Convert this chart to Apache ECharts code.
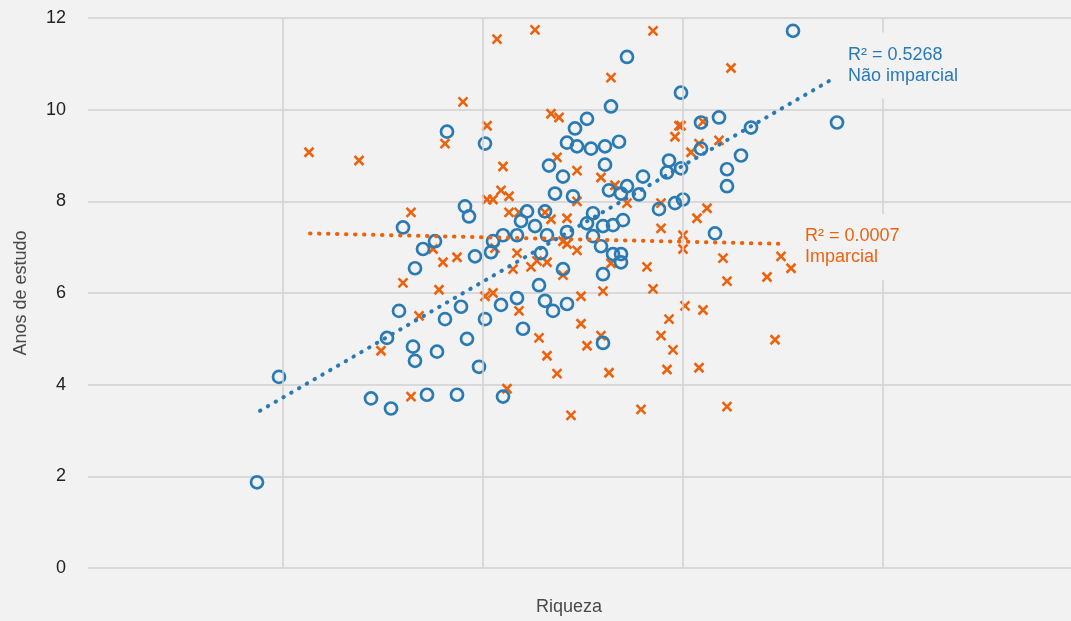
<!DOCTYPE html>
<html>
<head>
<meta charset="utf-8">
<script src="https://cdn.jsdelivr.net/npm/echarts@6/dist/echarts.min.js"></script>
<style>
html,body{margin:0;padding:0;background:#f2f2f2;}
#c{width:1071px;height:621px;}
</style>
</head>
<body>
<div id="c"></div>
<script>
// Não imparcial (blue circles): [riqueza, anos de estudo]
const naoImparcialX = [-1.13,-1.02,-0.56,-0.46,-0.48,-0.42,-0.40,-0.35,-0.34,-0.34,-0.30,-0.28,-0.24,-0.23,-0.19,-0.18,-0.13,-0.11,-0.09,-0.08,-0.07,-0.04,-0.02,0.01,0.01,0.05,0.04,0.09,0.10,0.10,0.17,0.17,0.19,0.20,0.22,0.26,0.28,0.29,0.31,0.31,0.32,0.33,0.35,0.36,0.40,0.40,0.42,0.42,0.42,0.45,0.46,0.47,0.52,0.52,0.54,0.55,0.55,0.59,0.60,0.60,0.60,0.61,0.61,0.63,0.64,0.65,0.65,0.68,0.69,0.69,0.69,0.70,0.72,0.72,0.78,0.80,0.88,0.92,0.93,0.96,0.99,0.99,1.00,1.09,1.09,1.16,1.18,1.22,1.22,1.29,1.34,1.55,1.77];
const naoImparcialY = [1.87,4.17,3.70,3.48,5.02,5.61,7.43,4.83,4.52,6.54,6.96,3.78,7.13,4.72,5.43,9.52,3.78,5.70,7.89,5.00,7.67,6.80,4.39,5.43,9.26,7.13,6.89,5.74,3.74,7.26,5.89,7.26,7.57,5.22,7.78,7.46,6.17,6.87,5.83,7.78,7.26,8.78,5.61,8.17,6.52,8.54,5.76,7.33,9.28,8.11,9.59,9.20,9.80,7.52,9.15,7.74,7.24,7.02,4.91,7.46,6.41,9.20,8.80,8.24,10.07,6.85,7.48,9.30,8.17,6.85,6.67,7.59,11.15,8.33,8.15,8.54,7.83,8.63,8.89,7.96,8.72,10.37,8.04,9.15,9.72,7.30,9.83,8.70,8.33,9.00,9.61,11.72,9.72];

// Imparcial (orange crosses)
const imparcialX = [-0.87,-0.62,-0.19,-0.10,0.02,0.07,0.26,0.85,0.64,0.34,0.38,0.96,0.98,0.37,0.10,0.47,0.59,0.66,0.09,0.13,0.02,0.05,0.47,0.72,0.89,-0.36,0.13,0.18,0.31,0.34,0.42,0.89,-0.25,-0.20,-0.13,0.06,0.17,0.15,0.24,0.27,0.32,0.40,0.42,0.47,0.64,0.82,0.40,0.85,0.01,0.05,0.49,0.60,-0.40,-0.22,-0.32,-0.51,-0.36,0.18,0.49,0.28,0.59,0.52,0.93,0.89,0.95,0.32,0.37,0.63,0.92,0.12,0.44,0.79,1.24,0.99,1.10,1.08,1.18,1.04,1.12,1.07,1.00,1.00,1.20,1.22,1.49,1.54,1.42,1.01,1.10,1.46,1.08,1.22];
const imparcialY = [9.07,8.89,9.26,10.17,9.65,11.54,11.74,11.72,10.70,9.91,9.83,9.41,9.65,8.96,8.76,8.67,8.52,8.35,8.24,8.11,8.04,8.04,8.00,7.96,7.96,7.76,7.76,7.76,7.76,7.61,7.63,7.41,6.96,6.67,6.78,6.98,6.87,6.52,6.57,6.70,6.67,7.13,7.07,6.93,6.65,6.57,6.39,6.09,5.93,6.00,5.93,6.04,6.22,6.07,5.50,4.74,3.74,5.61,5.33,5.02,5.07,4.85,5.43,5.07,4.76,4.63,4.24,4.26,4.33,3.91,3.33,3.46,10.91,9.65,9.74,9.26,9.33,9.07,7.85,7.63,7.26,6.96,6.76,6.26,6.80,6.54,6.35,5.72,5.63,4.98,4.37,3.52];

// Trend lines (endpoints)
const trendNaoImparcialX = [-1.115, 1.76];
const trendNaoImparcialY = [3.43, 10.70];
const trendImparcialX = [-0.865, 1.515];
const trendImparcialY = [7.30, 7.07];
const r2NaoImparcial = '0.5268';
const r2Imparcial = '0.0007';

// axis
const yTicks = [0, 2, 4, 6, 8, 10, 12];
const xGridLines = [-1, 0, 1, 2];
const xMin = -1.975, xMax = 2.94;

const BLUE = '#2a7ab3';
const ORANGE = '#ea6410';
const GRID = '#d0d0d0';
const FONT = '"Liberation Sans", Arial, sans-serif';

const zip = (a, b) => a.map((v, i) => [v, b[i]]);

const chart = echarts.init(document.getElementById('c'), null, {renderer: 'canvas'});
chart.setOption({
  animation: false,
  backgroundColor: '#f2f2f2',
  textStyle: {fontFamily: FONT},
  grid: {left: 88, right: 0, top: 18, bottom: 51, containLabel: false},
  xAxis: {
    type: 'value', min: xMin, max: xMax,
    axisLine: {show: false}, axisTick: {show: false}, axisLabel: {show: false},
    splitLine: {show: false},
    name: 'Riqueza', nameLocation: 'middle', nameGap: 30,
    nameTextStyle: {color: '#4a4a4a', fontSize: 18, fontFamily: FONT, padding: [0, 21, 0, 0]}
  },
  yAxis: {
    type: 'value', min: yTicks[0], max: yTicks[yTicks.length - 1], interval: yTicks[1] - yTicks[0],
    axisLine: {show: false}, axisTick: {show: false},
    axisLabel: {color: '#222', fontSize: 18, margin: 22, fontFamily: FONT},
    splitLine: {lineStyle: {color: GRID, width: 1.5}},
    name: 'Anos de estudo', nameLocation: 'middle', nameGap: 58,
    nameTextStyle: {color: '#4a4a4a', fontSize: 18, fontFamily: FONT}
  },
  series: [
    {
      type: 'scatter', data: [], z: 1, silent: true,
      markLine: {
        silent: true, symbol: ['none', 'none'], label: {show: false},
        lineStyle: {color: GRID, width: 1.5, type: 'solid'},
        emphasis: {disabled: true},
        data: xGridLines.map(v => ({xAxis: v}))
      }
    },
    {
      name: 'Imparcial', type: 'scatter', z: 3,
      data: zip(imparcialX, imparcialY),
      symbol: 'path://M0,0L10,10M0,10L10,0', symbolSize: 9,
      itemStyle: {color: 'transparent', borderColor: ORANGE, borderWidth: 2.6, opacity: 1}
    },
    {
      name: 'Não imparcial', type: 'scatter', z: 4,
      data: zip(naoImparcialX, naoImparcialY),
      symbol: 'circle', symbolSize: 12,
      itemStyle: {color: 'transparent', borderColor: BLUE, borderWidth: 2.7, opacity: 1}
    },
    {
      type: 'line', z: 5, silent: true, showSymbol: false,
      data: zip(trendImparcialX, trendImparcialY),
      lineStyle: {color: ORANGE, width: 4, type: [0.5, 8.5], cap: 'round', opacity: 1},
      endLabel: {
        show: true, formatter: 'R² = ' + r2Imparcial + '\nImparcial',
        color: ORANGE, fontSize: 18, lineHeight: 21, fontFamily: FONT,
        backgroundColor: '#f2f2f2', padding: [12, 8], distance: 5, offset: [6, 3]
      }
    },
    {
      type: 'line', z: 6, silent: true, showSymbol: false,
      data: zip(trendNaoImparcialX, trendNaoImparcialY),
      lineStyle: {color: BLUE, width: 4, type: [0.5, 8.5], cap: 'round', opacity: 1},
      endLabel: {
        show: true, formatter: 'R² = ' + r2NaoImparcial + '\nNão imparcial',
        color: BLUE, fontSize: 18, lineHeight: 21, fontFamily: FONT,
        backgroundColor: '#f2f2f2', padding: [12, 8], distance: 5, offset: [0, -12]
      }
    }
  ]
});
</script>
</body>
</html>
